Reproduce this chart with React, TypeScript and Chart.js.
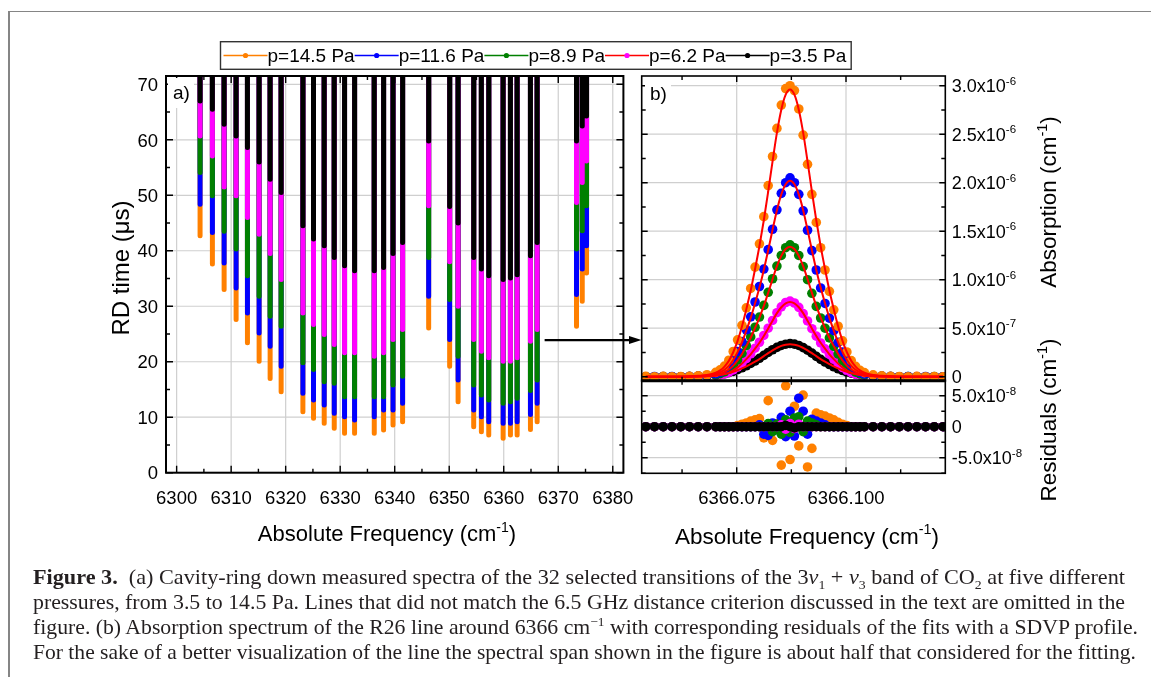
import { useEffect, useRef } from "react";
import { Chart, registerables } from "chart.js";
Chart.register(...registerables);

const W = 1151;
const H = 677;
const SANS = '"Liberation Sans", Arial, Helvetica, sans-serif';

// ---------- shared series info ----------
const pressures = ["p=14.5 Pa", "p=11.6 Pa", "p=8.9 Pa", "p=6.2 Pa", "p=3.5 Pa"];
const dotColors = ["#ff8000", "#0000ff", "#008000", "#ff00ff", "#000000"];
const legendLineColors = ["#ff8000", "#0000ff", "#008000", "#ff0000", "#000000"];
const fitColor = "#ff0000";

// ---------- panel (a): RD time minima of each transition ----------
const transitions = [
  6304.3, 6306.56, 6308.71, 6310.91, 6312.99, 6315.13, 6317.15, 6319.17,
  6323.16, 6325.11, 6327.07, 6328.91, 6330.8, 6332.64, 6336.25, 6337.96,
  6339.69, 6341.45, 6346.23, 6350.08, 6351.63, 6354.49, 6355.9, 6357.25,
  6359.89, 6361.23, 6362.46, 6364.9, 6366.13, 6373.35, 6374.4, 6375.19,
];
const rdMin145 = [
  42.7, 37.6, 33.0, 27.6, 23.4, 20.1, 17.0, 14.6, 11.0, 9.8, 8.9, 8.0, 7.1, 7.1, 7.1, 7.7,
  8.6, 9.2, 26.1, 19.2, 12.8, 8.3, 7.4, 6.8, 6.2, 6.8, 6.8, 7.8, 9.2, 26.4, 30.9, 36.0,
];
const rdMin116 = [
  48.4, 43.3, 37.8, 33.3, 28.8, 25.2, 22.8, 19.2, 14.3, 13.1, 12.2, 10.7, 10.1, 9.5, 10.1, 11.3,
  11.3, 12.5, 31.8, 24.0, 16.7, 11.3, 10.1, 9.2, 8.9, 8.9, 9.2, 10.5, 12.5, 32.1, 36.7, 40.9,
];
const rdMin89 = [
  54.1, 49.9, 43.5, 40.3, 35.5, 31.8, 28.2, 26.4, 19.8, 18.6, 16.4, 16.1, 13.7, 13.7, 13.7, 13.7,
  15.8, 17.4, 38.8, 31.2, 21.0, 15.8, 14.0, 13.1, 12.5, 12.8, 13.4, 14.8, 16.7, 40.3, 43.6, 48.1,
];
const rdMin62 = [
  60.7, 57.1, 51.5, 49.9, 46.0, 43.0, 39.5, 34.8, 28.8, 26.7, 24.9, 23.1, 21.6, 21.6, 21.0, 21.6,
  24.0, 25.8, 48.1, 38.0, 30.0, 24.0, 21.9, 20.7, 20.1, 20.1, 20.7, 23.7, 25.8, 48.7, 52.3, 56.2,
];
const rdMin35 = [
  67.0, 65.5, 62.8, 60.7, 58.6, 56.0, 52.9, 50.5, 44.5, 42.1, 40.9, 38.8, 37.3, 36.4, 36.4, 37.0,
  39.5, 41.5, 59.8, 48.0, 45.0, 38.8, 36.7, 35.5, 34.8, 35.1, 35.7, 39.1, 41.5, 59.8, 62.5, 64.3,
];
const rdBaseline = 80;

const aXTicks = [6300, 6310, 6320, 6330, 6340, 6350, 6360, 6370, 6380];
const aXMinor = [6305, 6315, 6325, 6335, 6345, 6355, 6365, 6375];
const aYTicks = [0, 10, 20, 30, 40, 50, 60, 70];
const aYMinor = [5, 15, 25, 35, 45, 55, 65];

// ---------- panel (b): R26 line ----------
const bX = [
  6366.0542, 6366.0562, 6366.0582, 6366.0602, 6366.0622, 6366.0642, 6366.0662, 6366.0682,
  6366.0702, 6366.0712, 6366.0722, 6366.0732, 6366.0742, 6366.0752, 6366.0762, 6366.0772,
  6366.0782, 6366.0792, 6366.0802, 6366.0812, 6366.0822, 6366.0832, 6366.0842, 6366.0852,
  6366.0862, 6366.0872, 6366.0882, 6366.0892, 6366.0902, 6366.0912, 6366.0922, 6366.0932,
  6366.0942, 6366.0952, 6366.0962, 6366.0972, 6366.0982, 6366.0992, 6366.1002, 6366.1012,
  6366.1022, 6366.1032, 6366.1042, 6366.1062, 6366.1082, 6366.1102, 6366.1122, 6366.1142,
  6366.1162, 6366.1182, 6366.1202, 6366.1222,
];
// absorption, units of 1e-6 cm-1
const abs145 = [
  0.004, 0, 0.003, 0, 0.002, 0.004, 0.01, 0.02, 0.045, 0.07, 0.11, 0.17, 0.26, 0.38, 0.53, 0.71,
  0.91, 1.13, 1.37, 1.65, 1.97, 2.27, 2.56, 2.8, 2.97, 3.0, 2.95, 2.76, 2.49, 2.19, 1.88, 1.59,
  1.33, 1.1, 0.88, 0.69, 0.52, 0.37, 0.255, 0.166, 0.106, 0.066, 0.042, 0.019, 0.009, 0.003,
  0.002, 0, 0.003, 0, 0.002, 0,
];
const fit145 = [
  0, 0, 0, 0, 0, 0.003, 0.009, 0.018, 0.041, 0.065, 0.104, 0.163, 0.252, 0.37, 0.518, 0.696,
  0.888, 1.11, 1.347, 1.613, 1.909, 2.22, 2.516, 2.753, 2.907, 2.96, 2.907, 2.753, 2.516, 2.22,
  1.909, 1.613, 1.347, 1.11, 0.888, 0.696, 0.518, 0.37, 0.252, 0.163, 0.104, 0.065, 0.041,
  0.018, 0.009, 0.003, 0, 0, 0, 0, 0, 0,
];
const abs116 = [
  0, 0.002, 0, 0.002, 0, 0.002, 0.006, 0.013, 0.03, 0.046, 0.074, 0.115, 0.177, 0.26, 0.362,
  0.484, 0.617, 0.77, 0.93, 1.11, 1.31, 1.52, 1.72, 1.89, 2.0, 2.05, 2.0, 1.88, 1.71, 1.51, 1.3,
  1.1, 0.915, 0.755, 0.604, 0.474, 0.354, 0.253, 0.173, 0.112, 0.072, 0.045, 0.028, 0.012,
  0.006, 0.002, 0, 0.002, 0, 0.002, 0, 0,
];
const fit116 = [
  0, 0, 0, 0, 0, 0.002, 0.006, 0.012, 0.028, 0.044, 0.071, 0.111, 0.172, 0.253, 0.354, 0.475,
  0.606, 0.758, 0.919, 1.101, 1.303, 1.515, 1.717, 1.879, 1.984, 2.02, 1.984, 1.879, 1.717,
  1.515, 1.303, 1.101, 0.919, 0.758, 0.606, 0.475, 0.354, 0.253, 0.172, 0.111, 0.071, 0.044,
  0.028, 0.012, 0.006, 0.002, 0, 0, 0, 0, 0, 0,
];
const abs89 = [
  0, 0, 0.002, 0, 0, 0.001, 0.004, 0.009, 0.02, 0.031, 0.049, 0.077, 0.118, 0.172, 0.24, 0.32,
  0.41, 0.51, 0.615, 0.735, 0.87, 1.01, 1.14, 1.25, 1.33, 1.36, 1.33, 1.25, 1.135, 1.0, 0.86,
  0.725, 0.605, 0.5, 0.4, 0.313, 0.234, 0.167, 0.114, 0.074, 0.047, 0.029, 0.019, 0.008, 0.004,
  0.001, 0, 0.002, 0, 0, 0.002, 0,
];
const fit89 = [
  0, 0, 0, 0, 0, 0.001, 0.004, 0.008, 0.019, 0.029, 0.047, 0.074, 0.114, 0.168, 0.235, 0.315,
  0.402, 0.503, 0.61, 0.73, 0.864, 1.005, 1.139, 1.246, 1.316, 1.34, 1.316, 1.246, 1.139, 1.005,
  0.864, 0.73, 0.61, 0.503, 0.402, 0.315, 0.235, 0.168, 0.114, 0.074, 0.047, 0.029, 0.019,
  0.008, 0.004, 0.001, 0, 0, 0, 0, 0, 0,
];
const abs62 = [
  0, 0, 0.002, 0, 0, 0.001, 0.003, 0.006, 0.013, 0.02, 0.03, 0.046, 0.07, 0.1, 0.14, 0.186,
  0.236, 0.294, 0.355, 0.425, 0.5, 0.58, 0.66, 0.72, 0.765, 0.78, 0.76, 0.715, 0.65, 0.575,
  0.495, 0.418, 0.348, 0.287, 0.23, 0.18, 0.134, 0.095, 0.064, 0.042, 0.027, 0.017, 0.011,
  0.005, 0.002, 0.001, 0, 0, 0.002, 0, 0, 0,
];
const fit62 = [
  0, 0, 0, 0, 0, 0.001, 0.002, 0.005, 0.011, 0.017, 0.027, 0.042, 0.065, 0.096, 0.135, 0.181,
  0.231, 0.289, 0.35, 0.42, 0.497, 0.578, 0.655, 0.716, 0.756, 0.77, 0.756, 0.716, 0.655, 0.578,
  0.497, 0.42, 0.35, 0.289, 0.231, 0.181, 0.135, 0.096, 0.065, 0.042, 0.027, 0.017, 0.011,
  0.005, 0.002, 0.001, 0, 0, 0, 0, 0, 0,
];
const abs35 = [
  0, 0, 0, 0, 0, 0.001, 0.004, 0.008, 0.016, 0.022, 0.03, 0.041, 0.055, 0.072, 0.092, 0.113,
  0.137, 0.162, 0.19, 0.22, 0.25, 0.278, 0.302, 0.322, 0.335, 0.342, 0.336, 0.322, 0.3, 0.273,
  0.243, 0.21, 0.179, 0.151, 0.126, 0.102, 0.082, 0.064, 0.048, 0.036, 0.026, 0.018, 0.012,
  0.006, 0.003, 0.001, 0, 0, 0, 0, 0, 0,
];
const fit35 = [
  0, 0, 0, 0, 0, 0.001, 0.003, 0.006, 0.013, 0.019, 0.027, 0.037, 0.05, 0.066, 0.085, 0.106,
  0.13, 0.155, 0.182, 0.212, 0.243, 0.272, 0.297, 0.318, 0.33, 0.335, 0.33, 0.318, 0.297, 0.272,
  0.243, 0.212, 0.182, 0.155, 0.13, 0.106, 0.085, 0.066, 0.05, 0.037, 0.027, 0.019, 0.013,
  0.006, 0.003, 0.001, 0, 0, 0, 0, 0, 0,
];
// residuals, units of 1e-8 cm-1
const res145 = [
  0, 0, 0, 0, 0, 0, 0, 0, 0, 0, 0, 0, 0, 0.2, 0.4, 0.6, 0.9, 1.1, 1.3, -1.8, 4.2, -2.2, 0.5,
  -6.2, 6.6, -5.3, 3.3, -3.1, 5.1, -6.5, -3.5, 2.2, 1.9, 1.7, 1.4, 1.1, 0.7, 0.4, 0.2, 0, 0, 0,
  0, 0, 0, 0, 0, 0, 0, 0, 0, 0,
];
const res116 = [
  0, 0, 0, 0, 0, 0, 0, 0, 0, 0, 0, 0, 0, 0, 0, 0, 0, 0, 0.3, -1.2, -1.4, 0.6, -0.5, 1.5, -1.6,
  2.5, -1.5, 4.6, 2.5, -1.2, 1.2, 0.9, 0.6, 0.3, 0, 0, 0, 0, 0, 0, 0, 0, 0, 0, 0, 0, 0, 0, 0, 0,
  0, 0,
];
const res89 = [
  0, 0, 0, 0, 0, 0, 0, 0, 0, 0, 0, 0, 0, 0, 0, 0, 0, 0, 0, 0, 0.5, -0.8, 0.4, -1.2, 1.1, -0.9,
  1.4, 1.6, -0.8, 0.9, 0.6, 0.3, 0, 0, 0, 0, 0, 0, 0, 0, 0, 0, 0, 0, 0, 0, 0, 0, 0, 0, 0, 0,
];
const res62 = [
  0, 0, 0, 0, 0, 0, 0, 0, 0, 0, 0, 0, 0, 0, 0, 0, 0, 0, 0, 0, 0, 0, 0, 0.3, -0.4, 0.5, -0.3,
  0.4, 0, 0, 0, 0, 0, 0, 0, 0, 0, 0, 0, 0, 0, 0, 0, 0, 0, 0, 0, 0, 0, 0, 0, 0,
];
const res35 = [
  0, 0, 0, 0, 0, 0, 0, 0, 0, 0, 0, 0, 0, 0, 0, 0, 0, 0, 0, 0, 0, 0, 0, 0, 0.2, 0, -0.2, 0, 0,
  0, 0, 0, 0, 0, 0, 0, 0, 0, 0, 0, 0, 0, 0, 0, 0, 0, 0, 0, 0, 0, 0, 0,
];

const bXTicks = [6366.075, 6366.1];
const bXTickLabels = ["6366.075", "6366.100"];
const bXMinor = [6366.0625, 6366.0875, 6366.1125];
const bYTicks = [0, 0.5, 1, 1.5, 2, 2.5, 3];
const bYTickLabels = ["0", "5.0x10^{-7}", "1.0x10^{-6}", "1.5x10^{-6}", "2.0x10^{-6}", "2.5x10^{-6}", "3.0x10^{-6}"];
const bYMinor = [0.25, 0.75, 1.25, 1.75, 2.25, 2.75];
const rYTicks = [-5, 0, 5];
const rYTickLabels = ["-5.0x10^{-8}", "0", "5.0x10^{-8}"];
const rYMinor = [-7.5, -2.5, 2.5];

// ---------- drawing helpers ----------
function parseRich(s: string) {
  const parts: { t: string; sup: boolean }[] = [];
  const re = /\^\{([^}]*)\}/g;
  let last = 0;
  let m: RegExpExecArray | null;
  while ((m = re.exec(s))) {
    if (m.index > last) parts.push({ t: s.slice(last, m.index), sup: false });
    parts.push({ t: m[1], sup: true });
    last = re.lastIndex;
  }
  if (last < s.length) parts.push({ t: s.slice(last), sup: false });
  return parts;
}

function drawRich(ctx: CanvasRenderingContext2D, s: string, x: number, y: number, size: number, align: "left" | "center" | "right") {
  const parts = parseRich(s);
  const supSize = size * 0.64;
  let total = 0;
  const widths = parts.map((p) => {
    ctx.font = `${p.sup ? supSize : size}px ${SANS}`;
    const w = ctx.measureText(p.t).width;
    total += w;
    return w;
  });
  let cx = align === "left" ? x : align === "right" ? x - total : x - total / 2;
  ctx.textAlign = "left";
  ctx.textBaseline = "alphabetic";
  parts.forEach((p, i) => {
    ctx.font = `${p.sup ? supSize : size}px ${SANS}`;
    ctx.fillText(p.t, cx, p.sup ? y - size * 0.42 : y);
    cx += widths[i];
  });
}

function drawRotated(ctx: CanvasRenderingContext2D, s: string, cx: number, cy: number, size: number) {
  ctx.save();
  ctx.translate(cx, cy);
  ctx.rotate(-Math.PI / 2);
  drawRich(ctx, s, 0, size * 0.36, size, "center");
  ctx.restore();
}

function gridLines(chart: any, xs: number[], ys: number[]) {
  const { ctx, chartArea: a, scales } = chart;
  ctx.save();
  ctx.strokeStyle = "#cfcfcf";
  ctx.lineWidth = 1.2;
  ctx.beginPath();
  xs.forEach((v) => {
    const p = scales.x.getPixelForValue(v);
    ctx.moveTo(p, a.top);
    ctx.lineTo(p, a.bottom);
  });
  ys.forEach((v) => {
    const p = scales.y.getPixelForValue(v);
    ctx.moveTo(a.left, p);
    ctx.lineTo(a.right, p);
  });
  ctx.stroke();
  ctx.restore();
}

function tickMarks(chart: any, xMaj: number[], xMin: number[], yMaj: number[], yMin: number[], maj: number, min: number) {
  const { ctx, chartArea: a, scales } = chart;
  ctx.save();
  ctx.strokeStyle = "#000";
  ctx.lineWidth = 1.4;
  ctx.beginPath();
  const doX = (vals: number[], len: number) =>
    vals.forEach((v) => {
      const p = scales.x.getPixelForValue(v);
      ctx.moveTo(p, a.bottom);
      ctx.lineTo(p, a.bottom - len);
      ctx.moveTo(p, a.top);
      ctx.lineTo(p, a.top + len);
    });
  const doY = (vals: number[], len: number) =>
    vals.forEach((v) => {
      const p = scales.y.getPixelForValue(v);
      ctx.moveTo(a.left, p);
      ctx.lineTo(a.left + len, p);
      ctx.moveTo(a.right, p);
      ctx.lineTo(a.right - len, p);
    });
  doX(xMaj, maj);
  doX(xMin, min);
  doY(yMaj, maj);
  doY(yMin, min);
  ctx.stroke();
  ctx.restore();
}

function frame(chart: any, lw: number) {
  const { ctx, chartArea: a } = chart;
  ctx.save();
  ctx.strokeStyle = "#000";
  ctx.lineWidth = lw;
  ctx.strokeRect(a.left, a.top, a.right - a.left, a.bottom - a.top);
  ctx.restore();
}

function panelLabel(chart: any, text: string, x: number, y: number, w: number) {
  const { ctx } = chart;
  ctx.save();
  ctx.fillStyle = "#fff";
  ctx.fillRect(x - 5, y - 16, w, 30);
  ctx.fillStyle = "#000";
  ctx.font = `19px ${SANS}`;
  ctx.textAlign = "left";
  ctx.textBaseline = "middle";
  ctx.fillText(text, x, y);
  ctx.restore();
}

const baseOptions = (padding: any, xr: [number, number], yr: [number, number]) => ({
  responsive: false,
  animation: false as const,
  devicePixelRatio: 1,
  events: [] as any[],
  layout: { padding },
  plugins: { legend: { display: false }, tooltip: { enabled: false }, title: { display: false } },
  scales: {
    x: { type: "linear" as const, min: xr[0], max: xr[1], display: false },
    y: { type: "linear" as const, min: yr[0], max: yr[1], display: false },
  },
});

const captionLeft = 33;
const captionRight = [1125, 1125, 1138, 1136];

export default function App() {
  const aRef = useRef<HTMLCanvasElement>(null);
  const bRef = useRef<HTMLCanvasElement>(null);
  const rRef = useRef<HTMLCanvasElement>(null);
  const capRefs = useRef<(HTMLDivElement | null)[]>([]);

  useEffect(() => {
    capRefs.current.forEach((el, i) => {
      if (!el) return;
      el.style.transform = "none";
      const w = el.getBoundingClientRect().width;
      const target = captionRight[i] - captionLeft;
      if (w > 0) el.style.transform = `scaleX(${target / w})`;
    });
  }, []);

  useEffect(() => {
    const charts: Chart[] = [];

    // ----- panel a -----
    const aSeries = [rdMin145, rdMin116, rdMin89, rdMin62, rdMin35];
    const segs = (mins: number[]) =>
      transitions.flatMap((f, i) => [
        { x: f, y: mins[i] },
        { x: f, y: rdBaseline },
        { x: f, y: null },
      ]);
    const aDeco = {
      id: "aDeco",
      beforeDatasetsDraw(chart: any) {
        gridLines(chart, aXTicks, aYTicks);
      },
      afterDatasetsDraw(chart: any) {
        const { ctx, chartArea: a, scales } = chart;
        frame(chart, 2);
        tickMarks(chart, aXTicks, aXMinor, aYTicks, aYMinor, 7, 4);
        ctx.save();
        ctx.fillStyle = "#000";
        aYTicks.forEach((v) => drawRich(ctx, String(v), a.left - 8, scales.y.getPixelForValue(v) + 6.7, 18.5, "right"));
        aXTicks.forEach((v) => drawRich(ctx, String(v), scales.x.getPixelForValue(v), 504, 18.5, "center"));
        drawRich(ctx, "Absolute Frequency (cm^{-1})", 387, 541, 22, "center");
        drawRotated(ctx, "RD time (\u03bcs)", 120, 268, 24);
        ctx.restore();
        panelLabel(chart, "a)", 173, 94, 26);
        // arrow to panel b
        ctx.save();
        const sx = scales.x.getPixelForValue(6367.5);
        const sy = scales.y.getPixelForValue(23.9);
        ctx.strokeStyle = "#000";
        ctx.fillStyle = "#000";
        ctx.lineWidth = 2.4;
        ctx.beginPath();
        ctx.moveTo(sx, sy);
        ctx.lineTo(632, sy);
        ctx.stroke();
        ctx.beginPath();
        ctx.moveTo(641.5, sy);
        ctx.lineTo(629, sy - 4);
        ctx.lineTo(629, sy + 4);
        ctx.closePath();
        ctx.fill();
        ctx.restore();
        // legend
        ctx.save();
        ctx.font = `19px ${SANS}`;
        let x = 223.5;
        const ly = 55.5;
        pressures.forEach((p, i) => {
          ctx.strokeStyle = legendLineColors[i];
          ctx.lineWidth = 1.3;
          ctx.beginPath();
          ctx.moveTo(x, ly);
          ctx.lineTo(x + 44, ly);
          ctx.stroke();
          ctx.fillStyle = dotColors[i];
          ctx.beginPath();
          ctx.arc(x + 22, ly, 2.6, 0, Math.PI * 2);
          ctx.fill();
          x += 44;
          ctx.fillStyle = "#000";
          ctx.textAlign = "left";
          ctx.textBaseline = "alphabetic";
          ctx.fillText(p, x, ly + 6.8);
          x += ctx.measureText(p).width;
        });
        ctx.strokeStyle = "#333";
        ctx.lineWidth = 1.4;
        ctx.strokeRect(220.5, 41.7, x + 5 - 220.5, 27.6);
        ctx.restore();
      },
    };
    charts.push(
      new Chart(aRef.current!, {
        type: "line",
        data: {
          datasets: aSeries.map((mins, i) => ({
            label: pressures[i],
            data: segs(mins) as any,
            borderColor: dotColors[i],
            borderWidth: 5,
            borderCapStyle: "round" as const,
            pointRadius: 0,
            order: 5 - i,
            clip: 0,
            spanGaps: false,
          })),
        },
        options: baseOptions({ left: 166, top: 76, right: W - 623.4, bottom: H - 472.7 }, [6298.05, 6381.95], [0, 71.5]) as any,
        plugins: [aDeco],
      })
    );

    // ----- panel b upper -----
    const absSeries = [abs145, abs116, abs89, abs62, abs35];
    const fitSeries = [fit145, fit116, fit89, fit62, fit35];
    const bDeco = {
      id: "bDeco",
      beforeDatasetsDraw(chart: any) {
        gridLines(chart, bXTicks, bYTicks);
      },
      afterDatasetsDraw(chart: any) {
        const { ctx, chartArea: a, scales } = chart;
        frame(chart, 1.6);
        tickMarks(chart, bXTicks, bXMinor, bYTicks, bYMinor, 6, 4);
        ctx.save();
        ctx.fillStyle = "#000";
        bYTickLabels.forEach((s, i) => drawRich(ctx, s, a.right + 6.5, scales.y.getPixelForValue(bYTicks[i]) + 6.5, 18, "left"));
        drawRotated(ctx, "Absorption (cm^{-1})", 1048, 202, 22.5);
        ctx.restore();
        panelLabel(chart, "b)", 650, 95, 26);
      },
    };
    charts.push(
      new Chart(bRef.current!, {
        type: "line",
        data: {
          datasets: [
            ...absSeries.map((vals, i) => ({
              label: pressures[i],
              data: bX.map((x, k) => ({ x, y: vals[k] })),
              showLine: false,
              pointRadius: 4.8,
              pointBorderWidth: 0,
              pointBackgroundColor: dotColors[i],
              borderColor: dotColors[i],
              order: 1 + i,
              clip: 0,
            })),
            ...fitSeries.map((vals, i) => ({
              label: "fit " + pressures[i],
              data: bX.map((x, k) => ({ x, y: vals[k] })),
              borderColor: fitColor,
              borderWidth: 2,
              pointRadius: 0,
              cubicInterpolationMode: "monotone" as const,
              order: 0,
              clip: 0,
            })),
          ] as any,
        },
        options: baseOptions({ left: 641.7, top: 76, right: W - 945.3, bottom: H - 380.7 }, [6366.05327, 6366.12271], [-0.0412, 3.1]) as any,
        plugins: [bDeco],
      })
    );

    // ----- panel b residuals -----
    const resSeries = [res145, res116, res89, res62, res35];
    const rDeco = {
      id: "rDeco",
      beforeDatasetsDraw(chart: any) {
        gridLines(chart, bXTicks, rYTicks);
      },
      afterDatasetsDraw(chart: any) {
        const { ctx, chartArea: a, scales } = chart;
        frame(chart, 1.6);
        tickMarks(chart, bXTicks, bXMinor, rYTicks, rYMinor, 6, 4);
        ctx.save();
        ctx.strokeStyle = "#000";
        ctx.lineWidth = 3;
        ctx.beginPath();
        ctx.moveTo(a.left - 0.8, a.top);
        ctx.lineTo(a.right + 0.8, a.top);
        ctx.stroke();
        ctx.fillStyle = "#000";
        rYTickLabels.forEach((s, i) => drawRich(ctx, s, a.right + 6.5, scales.y.getPixelForValue(rYTicks[i]) + 6.5, 18, "left"));
        bXTickLabels.forEach((s, i) => drawRich(ctx, s, scales.x.getPixelForValue(bXTicks[i]), 504, 18.5, "center"));
        drawRich(ctx, "Absolute Frequency (cm^{-1})", 807, 543.5, 22.5, "center");
        drawRotated(ctx, "Residuals (cm^{-1})", 1048, 420, 22.5);
        ctx.restore();
      },
    };
    charts.push(
      new Chart(rRef.current!, {
        type: "line",
        data: {
          datasets: resSeries.map((vals, i) => ({
            label: "res " + pressures[i],
            data: bX.map((x, k) => ({ x, y: vals[k] })),
            showLine: false,
            pointRadius: 4.8,
            pointBorderWidth: 0,
            pointBackgroundColor: dotColors[i],
            borderColor: dotColors[i],
            order: 5 - i,
            clip: 0,
          })) as any,
        },
        options: baseOptions({ left: 641.7, top: 380.7, right: W - 945.3, bottom: H - 473.3 }, [6366.05327, 6366.12271], [-7.52, 7.42]) as any,
        plugins: [rDeco],
      })
    );

    return () => charts.forEach((c) => c.destroy());
  }, []);

  const capLine: React.CSSProperties = {
    height: 23,
    lineHeight: "23px",
    whiteSpace: "nowrap",
    display: "inline-block",
    transformOrigin: "0 50%",
  };
  const sub: React.CSSProperties = { fontSize: 13, lineHeight: 0 };
  const cv: React.CSSProperties = { position: "absolute", left: 0, top: 0 };
  const setCap = (i: number) => (el: HTMLDivElement | null) => {
    capRefs.current[i] = el;
  };
  return (
    <div style={{ position: "absolute", left: 0, top: 0, width: W, height: H, background: "#fff", overflow: "hidden" }}>
      <div style={{ position: "absolute", left: 8, top: 11, width: W - 8, height: 1, background: "#858585" }} />
      <div style={{ position: "absolute", left: 8, top: 11, width: 2, height: H - 11, background: "#858585" }} />
      <canvas ref={aRef} width={W} height={H} style={cv} />
      <canvas ref={bRef} width={W} height={H} style={cv} />
      <canvas ref={rRef} width={W} height={H} style={cv} />
      <div
        style={{
          position: "absolute",
          left: captionLeft,
          top: 565,
          fontFamily: '"Liberation Serif", "Times New Roman", serif',
          fontSize: 21,
          color: "#231f20",
        }}
      >
        <div ref={setCap(0)} style={capLine}>
          <b>Figure 3.</b>&nbsp;&nbsp;(a) Cavity-ring down measured spectra of the 32 selected transitions of the 3<i>ν</i>
          <sub style={sub}>1</sub> + <i>ν</i>
          <sub style={sub}>3</sub> band of CO<sub style={sub}>2</sub> at five different
        </div>
        <br />
        <div ref={setCap(1)} style={capLine}>
          pressures, from 3.5 to 14.5 Pa. Lines that did not match the 6.5 GHz distance criterion discussed in the text are omitted in the
        </div>
        <br />
        <div ref={setCap(2)} style={capLine}>
          figure. (b) Absorption spectrum of the R26 line around 6366 cm<sup style={sub}>−1</sup> with corresponding residuals of the fits with a SDVP profile.
        </div>
        <br />
        <div ref={setCap(3)} style={capLine}>
          For the sake of a better visualization of the line the spectral span shown in the figure is about half that considered for the fitting.
        </div>
      </div>
    </div>
  );
}
